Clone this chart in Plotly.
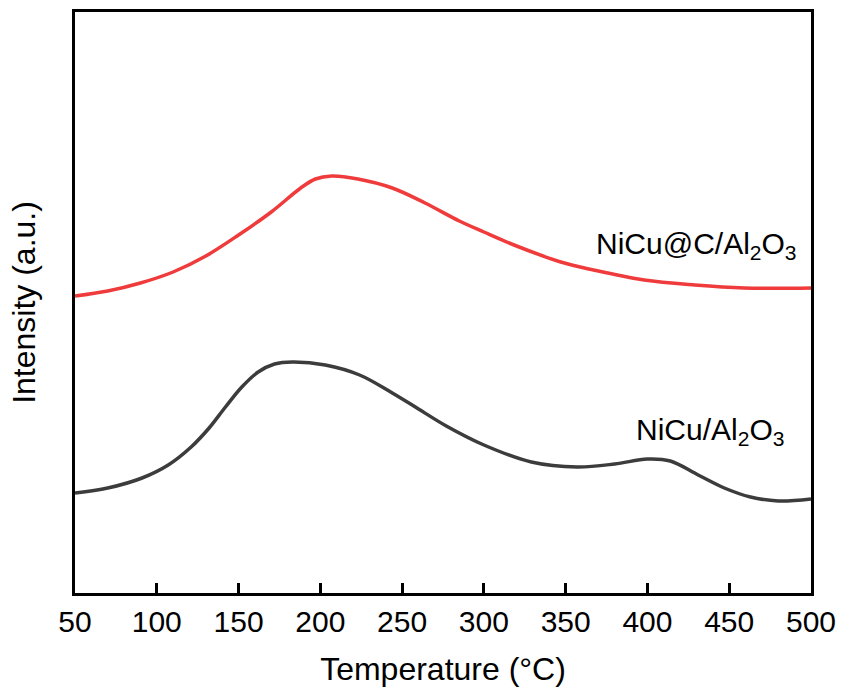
import plotly.graph_objects as go

# Temperature (°C) and intensity (a.u.) for NiCu@C/Al2O3
temp_red = [50, 70, 90, 110, 130, 150, 170, 188, 197, 207, 223, 244, 264, 285, 300,
            320, 347, 367, 398, 429, 459, 500]
int_red = [2.97, 3.02, 3.10, 3.21, 3.37, 3.58, 3.81, 4.05, 4.14, 4.17, 4.14, 4.05,
           3.90, 3.72, 3.61, 3.47, 3.31, 3.23, 3.13, 3.08, 3.05, 3.05]

# Temperature (°C) and intensity (a.u.) for NiCu/Al2O3
temp_blk = [50, 70, 91, 107, 121, 132, 142, 152, 162, 172, 183, 203, 224, 244, 260,
            277, 300, 329, 357, 380, 400, 414, 431, 447, 463, 480, 500]
int_blk = [1.00, 1.05, 1.15, 1.28, 1.46, 1.65, 1.86, 2.06, 2.21, 2.29, 2.31, 2.28,
           2.18, 2.00, 1.84, 1.67, 1.48, 1.31, 1.26, 1.29, 1.34, 1.32, 1.18, 1.05,
           0.96, 0.92, 0.94]

labels = ["NiCu@C/Al<sub>2</sub>O<sub>3</sub>", "NiCu/Al<sub>2</sub>O<sub>3</sub>"]
x_ticks = [50, 100, 150, 200, 250, 300, 350, 400, 450, 500]

FONT = "Liberation Sans, Arial"

fig = go.Figure()
fig.add_trace(go.Scatter(x=temp_red, y=int_red, mode="lines",
                         line=dict(color="#EF3B3B", width=3.5, shape="spline", smoothing=1.0),
                         showlegend=False))
fig.add_trace(go.Scatter(x=temp_blk, y=int_blk, mode="lines",
                         line=dict(color="#3C3C3C", width=3.5, shape="spline", smoothing=1.0),
                         showlegend=False))

fig.add_annotation(x=492.5, y=3.48, xref="x", yref="y", text=labels[0], showarrow=False,
                   xanchor="right", yanchor="middle",
                   font=dict(family=FONT, size=30, color="black"))
fig.add_annotation(x=484.5, y=1.62, xref="x", yref="y", text=labels[1], showarrow=False,
                   xanchor="right", yanchor="middle",
                   font=dict(family=FONT, size=30, color="black"))

fig.update_layout(
    width=841, height=689,
    margin=dict(l=75, r=30, t=12, b=96),
    paper_bgcolor="white", plot_bgcolor="white",
    font=dict(family=FONT, size=30, color="black"),
    xaxis=dict(range=[50, 500], tickvals=x_ticks, ticks="inside", ticklen=10, tickwidth=2.5,
               tickcolor="black", showline=True, linecolor="black", linewidth=3, mirror=True,
               showgrid=False, zeroline=False, automargin=False,
               title=dict(text="Temperature (°C)", font=dict(size=32), standoff=21),
               tickfont=dict(size=30)),
    yaxis=dict(range=[0, 5.81], showticklabels=False, ticks="", showline=True,
               linecolor="black", linewidth=3, mirror=True, showgrid=False, zeroline=False,
               automargin=False,
               title=dict(text="Intensity (a.u.)", font=dict(size=32), standoff=27)),
)

fig.write_html("out.html")
